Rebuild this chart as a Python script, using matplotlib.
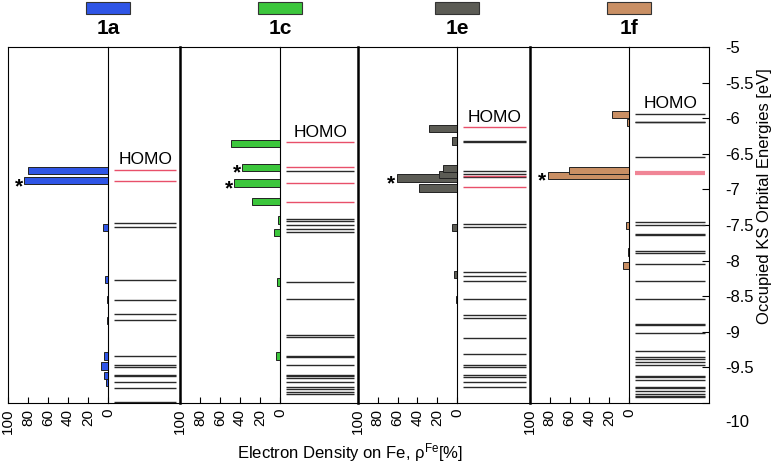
import matplotlib
matplotlib.use("Agg")
import matplotlib.pyplot as plt
from matplotlib.patches import Rectangle

plt.rcParams['font.family'] = ['Liberation Sans', 'DejaVu Sans']
plt.rcParams['mathtext.fontset'] = 'custom'
plt.rcParams['mathtext.rm'] = 'Liberation Sans'
plt.rcParams['mathtext.it'] = 'Liberation Sans:italic'

# ---------------- data ----------------
compounds = ['1a', '1c', '1e', '1f']
bar_colors = ['#2f55e6', '#3cc63c', '#5c5c55', '#c98f64']

bar_E_1a = [-6.73, -6.88, -7.53, -8.27, -8.55, -8.84, -9.34, -9.48, -9.61, -9.71]
bar_V_1a = [80, 84, 5, 3, 1, 1, 4, 7, 4, 2]
red_1a = [-6.73, -6.88]
levels_1a = [-7.47, -7.53, -8.27, -8.55, -8.75, -8.84, -9.34, -9.47, -9.49,
             -9.60, -9.62, -9.71, -9.79, -9.99]

bar_E_1c = [-6.36, -6.69, -6.91, -7.17, -7.43, -7.61, -8.30, -8.54, -9.06, -9.34]
bar_V_1c = [49, 38, 46, 28, 2, 6, 3, 0.5, 0.5, 4]
red_1c = [-6.34, -6.68, -6.91, -7.17]
levels_1c = [-6.74, -7.41, -7.44, -7.50, -7.55, -7.60, -8.30, -8.54, -9.04, -9.07,
             -9.34, -9.35, -9.47, -9.60, -9.62, -9.65, -9.71, -9.78, -9.80, -9.84, -9.87]

bar_E_1e = [-6.14, -6.32, -6.71, -6.79, -6.84, -6.98, -7.54, -8.20, -8.55]
bar_V_1e = [28, 5, 14, 18, 61, 38, 5, 3, 1]
red_1e = [-6.13, -6.81, -6.97]
levels_1e = [-6.32, -6.33, -6.74, -6.78, -6.83, -7.49, -7.53, -8.16, -8.21, -8.28,
             -8.54, -8.76, -8.81, -9.09, -9.31, -9.46, -9.49, -9.60, -9.63, -9.70, -9.78]

bar_E_1f = [-5.95, -6.06, -6.74, -6.80, -7.51, -7.88, -8.07]
bar_V_1f = [17, 2, 61, 82, 3, 1, 6]
red_1f = [-6.76, -6.78]
levels_1f = [-5.94, -6.05, -6.06, -6.54, -7.46, -7.50, -7.63, -7.64, -7.87, -7.90,
             -8.05, -8.29, -8.54, -8.89, -8.90, -9.02, -9.27, -9.35, -9.38, -9.42,
             -9.46, -9.62, -9.64, -9.68, -9.77, -9.79, -9.83, -9.87, -9.90, -9.92]

homo_E = [-6.73, -6.34, -6.13, -5.94]
star_E = [[-6.88], [-6.69, -6.91], [-6.84], [-6.80]]
star_V = [[84], [38, 46], [61], [82]]

x_ticks = [100, 80, 60, 40, 20, 0]
y_ticks = [-5, -5.5, -6, -6.5, -7, -7.5, -8, -8.5, -9, -9.5, -10]

bars_E = [bar_E_1a, bar_E_1c, bar_E_1e, bar_E_1f]
bars_V = [bar_V_1a, bar_V_1c, bar_V_1e, bar_V_1f]
reds = [red_1a, red_1c, red_1e, red_1f]
levels = [levels_1a, levels_1c, levels_1e, levels_1f]

# ---------------- layout (pixels) ----------------
W, H = 778, 467
fig = plt.figure(figsize=(W / 100, H / 100), dpi=100)
top_px, bot_px = 47, 403
bar_x = [(8, 108), (180, 280), (358, 457), (530, 629)]
lev_x = [(108, 180), (280, 358), (457, 530), (629, 709)]

def add_ax(x0, x1):
    return fig.add_axes([x0 / W, 1 - bot_px / H, (x1 - x0) / W, (bot_px - top_px) / H])

thin, thick = 0.8, 1.8
for i in range(4):
    axb = add_ax(*bar_x[i])
    axl = add_ax(*lev_x[i])
    for ax in (axb, axl):
        ax.set_ylim(-10, -5)
        ax.patch.set_alpha(0)
        for s in ax.spines.values():
            s.set_linewidth(thin)
    # bars
    order = sorted(range(len(bars_V[i])), key=lambda k: -bars_V[i][k])
    axb.barh([bars_E[i][k] for k in order], [bars_V[i][k] for k in order], height=0.1,
             color=bar_colors[i], edgecolor='#222222', linewidth=0.7, zorder=3)
    for e, v in zip(star_E[i], star_V[i]):
        axb.annotate('*', (v, e), xytext=(-1, -4), textcoords='offset points',
                     ha='right', va='center', fontsize=15, fontweight='bold')
    axb.set_xlim(100, 0)
    axb.set_xticks(x_ticks)
    axb.set_xticklabels([str(t) for t in x_ticks], rotation=90, fontsize=11)
    axb.tick_params(axis='x', direction='in', length=4, width=0.8, pad=4)
    axb.set_yticks([])
    if i > 0:
        axb.spines['left'].set_visible(False)
    axl.spines['left'].set_visible(False)
    # levels
    axl.set_xlim(0, 1)
    axl.set_xticks([])
    axl.hlines(levels[i], 0.08, 0.95, color='#2a2a2a', linewidth=1.0)
    axl.hlines(reds[i], 0.08, 0.95, color='#e8506a' if i < 3 else '#f08596',
               linewidth=1.0 if i < 3 else 1.6)
    axl.text(0.52, homo_E[i] + 0.04, 'HOMO', ha='center', va='bottom', fontsize=12.5)
    if i < 3:
        axl.spines['right'].set_linewidth(thick)
        axl.set_yticks([])
    else:
        axl.yaxis.tick_right()
        axl.set_yticks(y_ticks)
        axl.set_yticklabels([('%g' % t) if t != -10 else '' for t in y_ticks], fontsize=12)
        axl.tick_params(axis='y', direction='in', length=5, width=0.8, pad=12)
        axl.annotate('-10', (1, -10), xycoords=('axes fraction', 'data'),
                     xytext=(12, -14), textcoords='offset points',
                     ha='left', va='center', fontsize=12)
    # compound header
    cx = bar_x[i][1]
    fig.patches.append(Rectangle(((cx - 22) / W, 1 - 14 / H), 44 / W, 12 / H,
                                 transform=fig.transFigure, facecolor=bar_colors[i],
                                 edgecolor='#333333', linewidth=0.8))
    fig.text(cx / W, 1 - 28 / H, compounds[i], ha='center', va='center',
             fontsize=15, fontweight='bold')

fig.text(350 / W, 1 - 453 / H, 'Electron Density on Fe, ρ$^{\\mathrm{Fe}}$[%]',
         ha='center', va='center', fontsize=12)
fig.text(765 / W, 1 - 196 / H, 'Occupied KS Orbital Energies [eV]', rotation=90,
         ha='center', va='center', fontsize=12)

fig.savefig('out.png', dpi=100)
